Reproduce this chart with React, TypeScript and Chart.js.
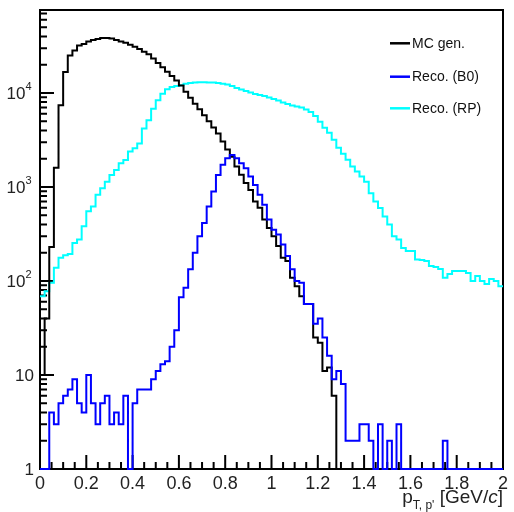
import React, { useEffect, useRef } from 'react';
import { Chart, registerables } from 'chart.js';

Chart.register(...registerables);

const FONT = '"Liberation Sans", Arial, Helvetica, sans-serif';

// Histogram binning: 100 bins of 0.02 GeV/c from 0 to 2
const BIN_WIDTH = 0.02;
const X_MIN = 0;
const X_MAX = 2;
const Y_MIN = 1;
const Y_MAX = 76400;

// MC gen. (black)
const mcGen: number[] = [
  10, 40, 230, 1600, 7400, 16700, 25000, 28300, 32000, 33300,
  35300, 36600, 37600, 38500, 38500, 37900, 36600, 35300, 34200, 32600,
  31000, 29300, 27500, 25800, 23300, 20800, 18800, 16800, 15200, 13600,
  12000, 10300, 8900, 7700, 6700, 5800, 5000, 4300, 3700, 3050,
  2500, 2100, 1650, 1350, 1100, 930, 700, 600, 450, 366,
  299, 235, 177, 163, 108, 88, 69, 57, 57, 25,
  22, 11, 12, 6, 0, 0, 0, 0, 0, 0,
  0, 0, 0, 0, 0, 0, 0, 0, 0, 0,
  0, 0, 0, 0, 0, 0, 0, 0, 0, 0,
  0, 0, 0, 0, 0, 0, 0, 0, 0, 0,
];

// Reco. (B0) (blue)
const recoB0: number[] = [
  0, 0, 4, 3, 5, 6, 7, 9, 5, 4,
  10, 5, 3, 5, 6, 3, 4, 3, 6, 0,
  5, 7, 7, 7, 9, 11, 13, 14, 20, 30,
  67, 85, 133, 200, 299, 414, 622, 897, 1346, 1720,
  2020, 2190, 2020, 1790, 1580, 1290, 1050, 827, 648, 450,
  352, 312, 245, 184, 133, 100, 96, 57, 57, 35,
  40, 25, 16, 9, 11, 8, 2, 2, 2, 3,
  3, 2, 0, 3, 0, 2, 0, 3, 0, 0,
  0, 0, 0, 0, 0, 0, 0, 2, 0, 0,
  0, 0, 0, 0, 0, 0, 0, 0, 0, 0,
];

// Reco. (RP) (cyan)
const recoRP: number[] = [
  69, 78, 96, 138, 177, 188, 194, 254, 276, 382,
  551, 622, 827, 971, 1140, 1346, 1520, 1790, 1940, 2380,
  2580, 2900, 4190, 5140, 6820, 8370, 9840, 10940, 11570, 11860,
  12070, 12540, 12760, 12900, 13000, 13000, 12950, 12900, 12800, 12550,
  12310, 11860, 11300, 10890, 10500, 10120, 9750, 9520, 9290, 8960,
  8640, 8330, 7930, 7650, 7380, 7190, 7030, 6690, 6290, 5710,
  4940, 4270, 3780, 3180, 2620, 2260, 1950, 1650, 1460, 1290,
  1140, 860, 703, 597, 487, 398, 299, 276, 225, 208,
  208, 169, 167, 163, 144, 141, 134, 108, 119, 128,
  128, 128, 122, 100, 113, 100, 93, 105, 100, 88,
];

const xTickValues = [0, 0.2, 0.4, 0.6, 0.8, 1, 1.2, 1.4, 1.6, 1.8, 2];
const xTickLabels = ['0', '0.2', '0.4', '0.6', '0.8', '1', '1.2', '1.4', '1.6', '1.8', '2'];
const xMinorStep = 0.05;
const yTickValues = [1, 10, 100, 1000, 10000];
const yTickLabels = ['1', '10', '10^2', '10^3', '10^4'];

const legendItems = [
  { label: 'MC gen.', color: '#000000' },
  { label: 'Reco. (B0)', color: '#0000ff' },
  { label: 'Reco. (RP)', color: '#00ffff' },
];

// Empty bins are drawn on the bottom of the log axis (as ROOT does)
function toSteps(values: number[]) {
  const pts = values.map((v, i) => ({ x: X_MIN + i * BIN_WIDTH, y: v > 0 ? v : Y_MIN }));
  const last = values[values.length - 1];
  pts.push({ x: X_MIN + values.length * BIN_WIDTH, y: last > 0 ? last : Y_MIN });
  return pts;
}

const rootPlugin = {
  id: 'rootStyle',
  beforeDatasetsDraw(chart: any) {
    const { ctx, chartArea: a, scales } = chart;
    const xs = scales.x;
    const ys = scales.y;
    ctx.save();
    ctx.strokeStyle = '#000';
    ctx.lineWidth = 2;
    ctx.strokeRect(a.left, a.top, a.right - a.left, a.bottom - a.top);
    ctx.beginPath();
    const nMinor = Math.round((X_MAX - X_MIN) / xMinorStep);
    for (let i = 0; i <= nMinor; i++) {
      const v = X_MIN + i * xMinorStep;
      const px = xs.getPixelForValue(v);
      const major = i % 4 === 0;
      ctx.moveTo(px, a.bottom);
      ctx.lineTo(px, a.bottom - (major ? 14 : 7));
    }
    for (let d = 1; d <= Y_MAX; d *= 10) {
      for (let m = 1; m <= 9; m++) {
        const v = m * d;
        if (v > Y_MAX) break;
        const py = ys.getPixelForValue(v);
        ctx.moveTo(a.left, py);
        ctx.lineTo(a.left + (m === 1 ? 14 : 7), py);
      }
    }
    ctx.stroke();
    ctx.restore();
  },
  afterDatasetsDraw(chart: any) {
    const { ctx, scales } = chart;
    const ys = scales.y;
    ctx.save();
    ctx.fillStyle = '#222';
    yTickValues.forEach((v, i) => {
      const py = ys.getPixelForValue(v);
      const [base, exp] = yTickLabels[i].split('^');
      ctx.textBaseline = 'middle';
      if (exp) {
        ctx.font = `17px ${FONT}`;
        ctx.textAlign = 'right';
        ctx.fillText(base, 25.5, py + 1);
        ctx.font = `11px ${FONT}`;
        ctx.textAlign = 'left';
        ctx.fillText(exp, 25.5, py - 6);
      } else {
        ctx.font = `17px ${FONT}`;
        ctx.textAlign = 'right';
        ctx.fillText(base, 34, py + 1);
      }
    });
    const legY = [43.3, 76.7, 108.3];
    legendItems.forEach((it, i) => {
      ctx.strokeStyle = it.color;
      ctx.lineWidth = 2.5;
      ctx.beginPath();
      ctx.moveTo(390, legY[i]);
      ctx.lineTo(410, legY[i]);
      ctx.stroke();
      ctx.fillStyle = '#111';
      ctx.font = `14px ${FONT}`;
      ctx.textAlign = 'left';
      ctx.textBaseline = 'middle';
      ctx.fillText(it.label, 412, legY[i] + 0.5);
    });
    const base = 503;
    const right = 503;
    const pieces = [
      { t: 'p', font: `19px ${FONT}`, dy: 0 },
      { t: "T, p'", font: `12px ${FONT}`, dy: 6 },
      { t: ' [GeV/', font: `19px ${FONT}`, dy: 0 },
      { t: 'c', font: `italic 19px ${FONT}`, dy: 0 },
      { t: ']', font: `19px ${FONT}`, dy: 0 },
    ];
    let total = 0;
    const widths = pieces.map((p) => {
      ctx.font = p.font;
      const w = ctx.measureText(p.t).width;
      total += w;
      return w;
    });
    let x = right - total;
    ctx.fillStyle = '#222';
    ctx.textAlign = 'left';
    ctx.textBaseline = 'alphabetic';
    pieces.forEach((p, i) => {
      ctx.font = p.font;
      ctx.fillText(p.t, x, base + p.dy);
      x += widths[i];
    });
    ctx.restore();
  },
};

export default function App() {
  const ref = useRef<HTMLCanvasElement>(null);
  useEffect(() => {
    const canvas = ref.current;
    if (!canvas) return;
    const common = {
      pointRadius: 0,
      borderWidth: 2,
      stepped: 'before' as const,
      fill: false,
      clip: false as const,
      tension: 0,
    };
    const chart = new Chart(canvas, {
      type: 'line',
      data: {
        datasets: [
          { label: 'Reco. (B0)', data: toSteps(recoB0), borderColor: '#0000ff', ...common },
          { label: 'MC gen.', data: toSteps(mcGen), borderColor: '#000000', ...common },
          { label: 'Reco. (RP)', data: toSteps(recoRP), borderColor: '#00ffff', ...common },
        ],
      },
      options: {
        responsive: false,
        animation: false,
        events: [],
        layout: { padding: { left: 0, top: 10, right: 11, bottom: 0 } },
        plugins: { legend: { display: false }, tooltip: { enabled: false } },
        scales: {
          x: {
            type: 'linear',
            min: X_MIN,
            max: X_MAX,
            grid: { display: false, drawTicks: false },
            border: { display: false },
            afterBuildTicks: (scale: any) => {
              scale.ticks = xTickValues.map((value) => ({ value }));
            },
            afterFit: (scale: any) => {
              scale.height = 43;
            },
            ticks: {
              autoSkip: false,
              maxRotation: 0,
              minRotation: 0,
              padding: 4,
              color: '#222',
              font: { family: FONT, size: 18 },
              callback: (_v: any, i: number) => xTickLabels[i],
            },
          },
          y: {
            type: 'logarithmic',
            min: Y_MIN,
            max: Y_MAX,
            grid: { display: false, drawTicks: false },
            border: { display: false },
            ticks: { display: false },
            afterFit: (scale: any) => {
              scale.width = 40;
            },
          },
        },
      } as any,
      plugins: [rootPlugin],
    });
    return () => chart.destroy();
  }, []);
  return (
    <div style={{ position: 'fixed', left: 0, top: 0, width: 514, height: 512, background: '#fff' }}>
      <canvas ref={ref} width={514} height={512} style={{ display: 'block' }} />
    </div>
  );
}
